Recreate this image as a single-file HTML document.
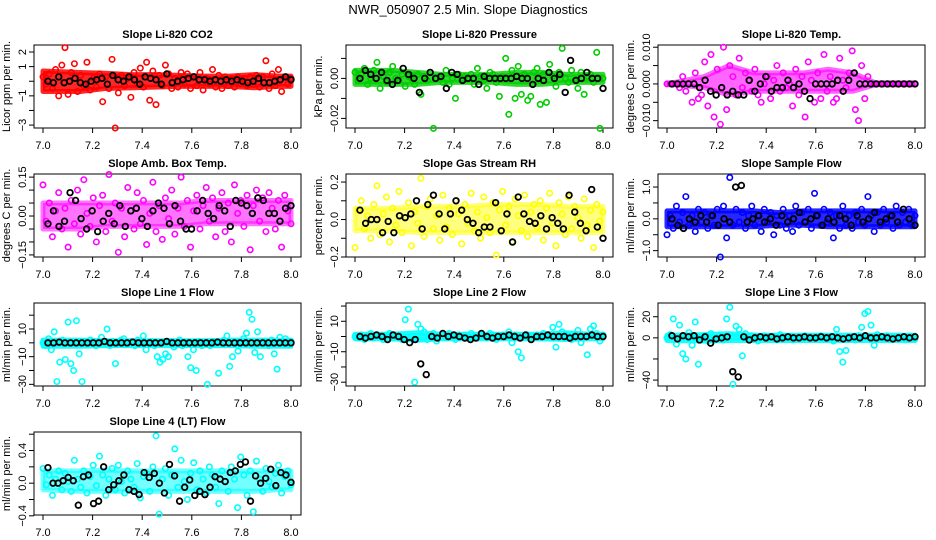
<!DOCTYPE html>
<html><head><meta charset="utf-8"><title>NWR_050907 Slope Diagnostics</title>
<style>
html,body{margin:0;padding:0;background:#fff;}
svg{display:block;font-family:"Liberation Sans",Arial,sans-serif;}
</style></head>
<body>
<svg id="chart" width="936" height="540" viewBox="0 0 936 540" xmlns="http://www.w3.org/2000/svg">
<text x="468" y="14" text-anchor="middle" font-size="13">NWR_050907  2.5 Min. Slope Diagnostics</text>
</svg>
<script>
const xTicks = [7.0, 7.2, 7.4, 7.6, 7.8, 8.0];
const xTickLabels = ["7.0", "7.2", "7.4", "7.6", "7.8", "8.0"];

const co2Color = [0.3,-0.2,0.5,-0.5,0.8,-1,1.1,2.3,-0.9,0.6,1.2,-0.7,0.4,-0.3,1.3,-0.6,0.2,-0.4,0.5,-1.4,0.3,-0.5,1.5,-3.2,-0.8,0.4,-0.3,0.2,-1.1,0.6,-0.2,0.9,-0.4,1.3,-1.3,0.7,-1.6,0.4,-0.3,1.1,0.5,-0.5,0.2,-0.4,0.6,-0.2,0.5,-0.5,0.3,-0.3,0.6,-0.6,0.2,-0.2,0.8,-0.4,0.4,-0.5,0.3,-0.3,0.2,-0.4,0.3,-0.2,0.2,-0.3,0.3,-0.2,0.4,-0.4,0.3,1.4,-0.5,0.5,-0.3,0.8,-0.7,0.3,-0.2,0.2];
const co2Black = [0,-0.1,0.3,-0.1,0,0.2,-0.1,-0.2,0,0.1,0.2,-0.2,0.4,0.1,0,0.3,0.1,-0.2,0.3,0.2,0.1,-0.2,0.5,-0.1,0,0.1,0.2,0.3,0.1,0.1,0,0.1,0,0.1,0,0.1,0,-0.1,0,0.2,-0.1,-0.1,0,0.1,0.3,0.1];
const co2BandLo = [-0.7,-0.7,-0.5,-0.45,-0.4,-0.35,-0.35,-0.35,-0.45,-0.35];
const co2BandHi = [0.7,0.6,0.55,0.45,0.45,0.4,0.35,0.35,0.45,0.35];
const presColor = [0.003,-0.001,0.002,0.005,-0.003,0,0.004,0.008,-0.005,0.001,-0.002,0.003,0.006,0,-0.001,0.002,-0.004,0.001,0,-0.003,0.002,-0.008,0.001,-0.001,0.003,-0.025,0,0.001,-0.002,0.004,-0.003,0,-0.010,0.002,-0.001,0.001,0,0.002,-0.003,0.005,0.001,-0.001,-0.005,0.003,0.002,-0.002,-0.009,0.001,0.010,-0.018,0.004,-0.010,0.006,-0.008,0.002,-0.011,-0.009,0.003,0.005,-0.013,0.002,-0.012,0.007,0.001,-0.004,0.003,0.015,0,-0.002,0.004,-0.001,-0.005,0.003,-0.008,0.001,0.002,-0.002,0.013,-0.025,0];
const presBlack = [0,0.004,0.002,0,0.003,-0.001,-0.003,-0.001,0.005,0.002,0,-0.007,0,0.003,0,0.001,-0.005,0.003,0.002,-0.001,0,0,-0.003,0.001,0,0,0,0,0,0.001,0,0,-0.003,0,-0.001,0.003,0,0.002,-0.007,0.009,-0.001,0,0.003,0,0,-0.005];
const presBandLo = [-0.003,-0.003,-0.003,-0.002,-0.002,-0.002,-0.003,-0.003,-0.002,-0.002];
const presBandHi = [0.004,0.004,0.003,0.002,0.002,0.002,0.003,0.003,0.002,0.002];
const tempColor = [0,0,0,0,-0.001,0.002,-0.002,0,-0.005,0.003,-0.004,-0.003,0.006,-0.006,0.008,-0.009,0.004,-0.011,0.010,-0.007,0.005,0.002,-0.003,0.007,-0.001,0.003,0.001,-0.002,0.004,-0.003,-0.005,0,0.002,-0.004,0.001,0.005,-0.002,0.003,-0.001,0,-0.006,0.004,-0.003,0.002,-0.009,0.006,0.001,-0.005,0.003,-0.004,0.008,-0.002,0.002,-0.005,-0.004,0.007,0.001,-0.001,0.003,0.009,-0.007,-0.010,0.005,-0.004,0.002,0,0,0,0,0,0,0,0,0,0,0,0,0,0,0];
const tempBlack = [0,0,0,0,0,-0.001,0.001,-0.002,-0.003,-0.001,-0.003,-0.002,-0.003,-0.003,0.001,-0.002,0,0.002,-0.002,-0.001,-0.001,0.001,-0.001,0,-0.002,-0.004,0,0,0,0,0.001,-0.002,0.001,0.003,0,0,0,0,0,0,0,0,0,0,0];
const tempBandLo = [0,-0.001,-0.003,-0.002,-0.002,-0.002,-0.002,-0.002,0,0];
const tempBandHi = [0,0.002,0.005,0.003,0.003,0.003,0.004,0.003,0,0];
const ambColor = [0.12,-0.02,0.05,-0.08,0.02,0.09,-0.05,0.03,-0.12,0.06,-0.03,0.1,-0.07,0.14,0.01,-0.04,0.07,-0.1,0.04,0.08,-0.06,0.16,-0.02,0.05,-0.14,0.03,-0.08,0.11,0.02,-0.05,0.09,-0.03,0.06,-0.11,0.01,0.13,-0.06,0.04,-0.09,0.07,-0.01,0.1,-0.07,0.03,0.15,-0.04,0.06,-0.12,0.02,0.08,-0.05,0.04,0.11,-0.02,0.07,-0.08,0.03,0.09,-0.06,0.05,-0.1,0.12,0.01,0.06,-0.04,0.08,-0.13,0.04,0.1,-0.02,0.07,-0.06,0.09,0.03,-0.05,0.06,-0.12,0.08,0.02,-0.03];
const ambBlack = [-0.03,0.02,-0.04,-0.02,0.09,0.06,-0.01,-0.05,0.02,-0.06,-0.02,0.01,-0.03,0.04,-0.04,0.02,0.03,-0.01,-0.04,0.02,0.05,0.03,-0.03,0.04,-0.02,-0.05,-0.05,0.02,0.06,0.01,-0.01,0.04,0.02,-0.04,0.06,0.05,0.04,0.01,0.07,0.06,0.01,0.01,-0.02,0.03,0.04];
const ambBandLo = [-0.05,-0.05,-0.04,-0.04,-0.04,-0.04,-0.03,-0.03,-0.03,-0.03];
const ambBandHi = [0.05,0.05,0.05,0.05,0.05,0.05,0.06,0.06,0.06,0.06];
const rhColor = [-0.15,0.05,0.1,-0.05,0.02,-0.1,0.08,0.18,-0.08,0.03,0.12,-0.12,0.06,-0.03,0.15,-0.07,0.01,0.09,-0.14,0.04,-0.02,0.22,-0.09,0.07,0.11,-0.05,0.02,-0.11,0.13,-0.04,0.06,-0.08,0.1,0.03,-0.13,0.08,-0.02,0.14,-0.06,0.04,-0.1,0.12,0.01,-0.07,0.09,-0.19,0.05,0.15,-0.03,0.07,-0.12,0.11,0.02,-0.06,0.13,-0.09,0.04,0.08,-0.04,0.1,-0.11,0.06,0.14,-0.02,-0.14,0.09,0.03,-0.08,0.12,-0.05,0.07,0.01,-0.1,0.11,-0.03,0.05,-0.15,0.08,-0.01,0.04];
const rhBlack = [0.05,-0.02,0,0,-0.07,-0.01,-0.07,0.02,0.01,0.03,0.1,-0.05,0.08,0.13,0.03,-0.05,0.03,0.1,0.05,0,-0.02,-0.07,-0.04,-0.04,0.09,-0.06,0.03,-0.12,0.12,0.03,-0.01,-0.02,0.02,-0.05,0.01,-0.02,-0.05,0.13,0.04,-0.02,-0.06,0.16,-0.04,-0.1];
const rhBandLo = [-0.06,-0.06,-0.07,-0.07,-0.07,-0.07,-0.07,-0.07,-0.07,-0.07];
const rhBandHi = [0.06,0.06,0.07,0.07,0.07,0.08,0.08,0.08,0.07,0.07];
const sampColor = [-0.5,0.1,-0.3,0.4,-0.1,0.2,0.7,-0.2,0.1,-0.4,0.3,-0.1,0.2,-0.3,0.1,-0.2,0.3,-1.2,0.4,-0.6,1.3,-0.2,0.3,-0.1,0.2,-0.3,0.1,0.4,-0.2,0.1,-0.4,0.3,-0.1,0.2,-0.5,0.1,-0.2,0.3,-0.3,0.1,-0.4,0.4,-0.2,0.2,-0.1,0.3,-0.3,0.8,0.1,-0.2,0.3,-0.1,0.2,-0.6,0.1,-0.3,0.4,-0.2,0.1,-0.3,0.2,-0.1,0.3,-0.2,0.7,0.1,-0.4,0.2,-0.2,0.3,-0.1,0.1,-0.3,0.4,-0.2,0.2,-0.1,0.3,-0.2,0.1];
const sampBlack = [0,-0.2,-0.3,0,-0.1,0.1,-0.1,0.1,-0.2,0,-0.1,1.0,1.05,-0.1,0,0.1,-0.1,0,-0.2,0.1,-0.1,0,0.2,-0.1,0,0.1,-0.2,0,-0.1,0.1,0,-0.2,0.1,-0.1,0,0.2,-0.1,0,0.1,-0.1,0.3,0,-0.2];
const sampBandLo = [-0.25,-0.25,-0.25,-0.25,-0.2,-0.2,-0.25,-0.25,-0.25,-0.25];
const sampBandHi = [0.25,0.25,0.25,0.25,0.2,0.25,0.25,0.25,0.25,0.25];
const line1Color = [0,-2,3,-5,8,-28,-14,2,-12,15,-15,-20,16,-8,-28,1,-1,2,0,-2,1,4,-1,10,-2,1,-15,0,2,3,-1,0,1,-2,2,-1,5,-5,0,1,-2,-10,-14,-12,-8,-10,1,-3,0,2,-2,0,-10,-18,-5,-20,1,-2,0,-30,-2,1,-1,-22,0,2,5,-17,-10,1,-6,0,3,7,22,17,-7,8,-10,1,0,-2,2,-8,-19,4,0,3,-1,1];
const line1Black = [0,0,0.5,0,0,0,0,0,0,0,1,0,0,0,0,0.5,0,0,0,0,0,1,0,0,0,0,0,0,0,0,0.5,0,0,0,0,0,0,0,0,0,0,0,0,0];
const line1BandLo = [-2.5,-2.5,-2,-2,-2,-2,-2,-2,-2.5,-2.5];
const line1BandHi = [2,2,1.5,1.5,1.5,1.5,1.5,2,2,2];
const line2Color = [0,-1,1,-2,0,2,-1,1,0,-2,1,2,-1,0,1,-2,11,18,0,-30,8,5,3,-2,1,2,-3,0,1,-1,2,0,-2,1,0,1,-1,2,0,-1,1,0,-1,2,1,-2,0,1,0,3,-4,1,-10,-14,0,1,-2,0,1,-1,2,0,-1,6,-7,8,3,1,0,-2,1,4,-4,0,-12,5,7,2,-3,1];
const line2Black = [0,-1,0,1,0,-2,1,0,-2,-4,-2,-18,-25,0,-1,2,0,1,0,-1,-2,-1,2,0,-1,0,0,1,0,-1,1,-2,0,0,1,0,0,0,-1,0,0,0,1,0,0];
const line2BandLo = [-1.5,-1.5,-2.5,-1.5,-1.5,-1.5,-1.5,-1.5,-2,-1.5];
const line2BandHi = [1.5,1.5,2.5,1.5,1.5,1.5,1.5,1.5,2.5,1.5];
const line3Color = [0,3,18,-6,12,-15,-20,5,-7,15,-25,0,2,-3,4,-1,0,2,-2,18,29,-44,11,8,-17,4,-1,2,0,-3,1,2,-1,0,1,-2,3,-1,0,1,-2,0,1,-1,2,0,1,-1,0,2,-1,0,1,-3,8,-13,-23,-12,1,0,-2,2,10,23,25,12,-7,3,0,-1,2,0,1,-1,0,1,-2,0,1,-1];
const line3Black = [2,-1,2,1,2,-2,1,-5,-1,0,1,-32,-37,1,-2,0,1,0,1,-1,0,1,0,0,1,0,0,1,0,1,0,-1,0,1,0,2,0,0,1,0,-1,0,1,0,1];
const line3BandLo = [-2.5,-3,-2.5,-2.5,-2.5,-2.5,-2.5,-2.5,-2.5,-2.5];
const line3BandHi = [2.5,3,4,2.5,2.5,2.5,2.5,2.5,2.5,2.5];
const line4Color = [0.18,-0.02,0.1,-0.15,0.05,0.15,-0.08,0.12,0.02,-0.1,0.28,0.05,-0.05,0.15,-0.12,0.08,0.22,-0.03,0.33,0.1,-0.15,0.05,0.18,-0.08,0.22,0.02,-0.12,0.15,0.05,-0.05,0.24,-0.18,0.08,0.12,-0.1,0.2,0.58,-0.38,0.05,0.18,-0.15,0.1,0.42,-0.05,0.28,0.02,-0.2,0.12,0.25,-0.08,0.15,0.05,-0.12,0.2,0.1,-0.05,-0.25,0.15,0.02,-0.1,0.2,0.05,-0.3,0.32,0.1,-0.15,0.15,-0.35,0.27,0.05,-0.1,0.18,0.02,-0.05,0.12,0.22,-0.12,0.08,0.15,-0.02];
const line4Black = [0.19,0,0,0.03,0.07,0.03,-0.27,0.08,0.1,-0.25,-0.22,0.2,-0.08,-0.02,0.03,0.1,-0.08,-0.1,-0.14,0.13,0.07,0.12,0,-0.12,0.23,0.09,-0.22,-0.05,0.04,-0.15,-0.1,-0.14,-0.05,0.08,0.05,0.02,0.13,0.15,0.23,0.26,-0.22,0.09,0,0.06,0.17,-0.03,0.13,0.1,0.01];
const line4BandLo = [-0.08,-0.1,-0.1,-0.1,-0.1,-0.1,-0.1,-0.1,-0.1,-0.08];
const line4BandHi = [0.15,0.15,0.16,0.15,0.15,0.15,0.15,0.15,0.15,0.15];

const panels = [
 {id:"co2",title:"Slope Li-820 CO2",ylab:"Licor ppm per min.",col:0,row:0,ymin:-3.2,ymax:2.48,ticks:[-3,-2,-1,0,1,2],labels:{"-3":"-3","-1":"-1","1":"1","2":"2"},color:"#ff0000",op:0.85,c:co2Color,b:co2Black,lo:co2BandLo,hi:co2BandHi},
 {id:"pressure",title:"Slope Li-820 Pressure",ylab:"kPa per min.",col:1,row:0,ymin:-0.0248,ymax:0.0167,ticks:[-0.02,-0.01,0,0.01],labels:{"-0.02":"-0.02","0":"0.00"},color:"#00cd00",op:0.8,c:presColor,b:presBlack,lo:presBandLo,hi:presBandHi},
 {id:"temp",title:"Slope Li-820 Temp.",ylab:"degrees C per min.",col:2,row:0,ymin:-0.012,ymax:0.0106,ticks:[-0.01,-0.005,0,0.005,0.01],labels:{"-0.01":"-0.010","0":"0.000","0.01":"0.010"},color:"#ff00ff",op:0.6,c:tempColor,b:tempBlack,lo:tempBandLo,hi:tempBandHi},
 {id:"amb",title:"Slope Amb. Box Temp.",ylab:"degrees C per min.",col:0,row:1,ymin:-0.158,ymax:0.162,ticks:[-0.15,-0.1,-0.05,0,0.05,0.1,0.15],labels:{"-0.15":"-0.15","0":"0.00","0.15":"0.15"},color:"#ff00ff",op:0.55,c:ambColor,b:ambBlack,lo:ambBandLo,hi:ambBandHi},
 {id:"rh",title:"Slope Gas Stream RH",ylab:"percent per min.",col:1,row:1,ymin:-0.2,ymax:0.243,ticks:[-0.2,-0.1,0,0.1,0.2],labels:{"-0.2":"-0.2","0":"0.0","0.2":"0.2"},color:"#ffff00",op:0.5,c:rhColor,b:rhBlack,lo:rhBandLo,hi:rhBandHi},
 {id:"sample",title:"Slope Sample Flow",ylab:"ml/min per min.",col:2,row:1,ymin:-1.2,ymax:1.41,ticks:[-1,-0.5,0,0.5,1],labels:{"-1":"-1.0","0":"0.0","1":"1.0"},color:"#0000ff",op:0.85,c:sampColor,b:sampBlack,lo:sampBandLo,hi:sampBandHi},
 {id:"line1",title:"Slope Line 1 Flow",ylab:"ml/min per min.",col:0,row:2,ymin:-31.2,ymax:28.8,ticks:[-30,-20,-10,0,10,20],labels:{"-30":"-30","-10":"-10","10":"10"},color:"#00ffff",op:0.9,c:line1Color,b:line1Black,lo:line1BandLo,hi:line1BandHi},
 {id:"line2",title:"Slope Line 2 Flow",ylab:"ml/min per min.",col:1,row:2,ymin:-32.5,ymax:22,ticks:[-30,-20,-10,0,10,20],labels:{"-30":"-30","-10":"-10","10":"10"},color:"#00ffff",op:0.9,c:line2Color,b:line2Black,lo:line2BandLo,hi:line2BandHi},
 {id:"line3",title:"Slope Line 3 Flow",ylab:"ml/min per min.",col:2,row:2,ymin:-45.6,ymax:33,ticks:[-40,-20,0,20],labels:{"-40":"-40","0":"0","20":"20"},color:"#00ffff",op:0.9,c:line3Color,b:line3Black,lo:line3BandLo,hi:line3BandHi},
 {id:"line4",title:"Slope Line 4 (LT) Flow",ylab:"ml/min per min.",col:0,row:3,ymin:-0.39,ymax:0.627,ticks:[-0.4,-0.2,0,0.2,0.4,0.6],labels:{"-0.4":"-0.4","0":"0.0","0.4":"0.4"},color:"#00ffff",op:0.55,c:line4Color,b:line4Black,lo:line4BandLo,hi:line4BandHi}
];

const NS="http://www.w3.org/2000/svg";
const svg=document.getElementById("chart");
function mk(tag,attrs,parent){const e=document.createElementNS(NS,tag);for(const k in attrs)e.setAttribute(k,attrs[k]);parent.appendChild(e);return e;}

panels.forEach(p=>{
  const L=34+p.col*312, R=L+267, T=45+p.row*129, B=T+83;
  const xs=v=>L+9+(v-7)*248;
  const ys=v=>B-(v-p.ymin)/(p.ymax-p.ymin)*(B-T);
  const g=mk("g",{},svg);
  
  
  const t=mk("text",{x:(L+R)/2,y:T-7,"text-anchor":"middle","font-size":"11","font-weight":"bold"},g);
  t.textContent=p.title;
  
  
  const n=p.lo.length;
  const top=[],bot=[];
  for(let i=0;i<n;i++){
    const xc=7+(i+0.5)/n;
    const xx=i===0?7:(i===n-1?8:xc);
    if(i===0||i===n-1){top.push(`${xs(i===0?7:xc)},${ys(p.hi[i])}`);bot.unshift(`${xs(i===0?7:xc)},${ys(p.lo[i])}`);}
    top.push(`${xs(xx)},${ys(p.hi[i])}`);
    bot.unshift(`${xs(xx)},${ys(p.lo[i])}`);
  }
  const band=mk("polygon",{points:top.concat(bot).join(" "),fill:p.color,"fill-opacity":p.op,stroke:p.color,"stroke-opacity":p.op,"stroke-width":"5","stroke-linejoin":"round"},g);
  
  
  const box=mk("rect",{x:L,y:T,width:R-L,height:B-T,fill:"none",stroke:"#000","stroke-width":"1"},g);
  
  
  const xa=mk("g",{},g);
  
  
  mk("line",{x1:xs(xTicks[0]),x2:xs(xTicks[xTicks.length-1]),y1:B,y2:B,stroke:"#000"},xa);
  xTicks.forEach((v,i)=>{
    mk("line",{x1:xs(v),x2:xs(v),y1:B,y2:B+5,stroke:"#000"},xa);
    const tl=mk("text",{x:xs(v),y:B+21,"text-anchor":"middle","font-size":"11"},xa);
    tl.textContent=xTickLabels[i];
    
    
  });
  const ya=mk("g",{},g);
  
  
  mk("line",{x1:L,x2:L,y1:ys(p.ticks[0]),y2:ys(p.ticks[p.ticks.length-1]),stroke:"#000"},ya);
  p.ticks.forEach(v=>{
    mk("line",{x1:L-5,x2:L,y1:ys(v),y2:ys(v),stroke:"#000"},ya);
    const lab=p.labels[String(v)];
    if(lab!==undefined){
      const yl=mk("text",{x:0,y:0,"text-anchor":"middle","font-size":"11",transform:`translate(${L-8},${ys(v)}) rotate(-90)`},ya);
      yl.textContent=lab.replace("-","\u2212");
      
      
    }
  });
  const yt=mk("text",{x:0,y:0,"text-anchor":"middle","font-size":"11",transform:`translate(${L-24},${(T+B)/2}) rotate(-90)`},g);
  yt.textContent=p.ylab;
  
  
  const pc=mk("g",{fill:"none",stroke:p.color,"stroke-width":"1.6"},g);
  
  
  p.c.forEach((v,i)=>{
    const x=7+i/(p.c.length-1);
    const c=mk("circle",{cx:xs(x),cy:ys(v),r:2.7},pc);
    
    
  });
  const pb=mk("g",{fill:"none",stroke:"#000","stroke-width":"1.8"},g);
  
  
  p.b.forEach((v,i)=>{
    const x=7.02+0.98*i/(p.b.length-1);
    const c=mk("circle",{cx:xs(x),cy:ys(v),r:2.8},pb);
    
    
  });
});
</script>
</body></html>
